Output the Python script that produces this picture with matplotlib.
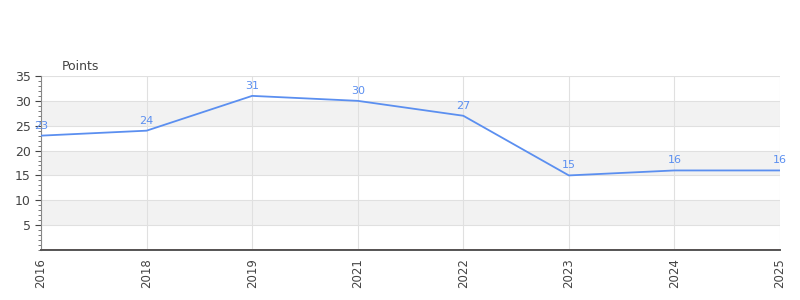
import matplotlib.pyplot as plt
from matplotlib.ticker import MultipleLocator

plt.rcParams["font.family"] = "DejaVu Sans"

years = ["2016", "2018", "2019", "2021", "2022", "2023", "2024", "2025"]
points = [23, 24, 31, 30, 27, 15, 16, 16]

LINE = "#5b8ff0"
GRID = "#e0e0e0"
BAND = "#f2f2f2"
TEXT = "#444444"

fig = plt.figure(figsize=(8, 3), dpi=100)
ax = fig.add_axes([0.05125, 0.1667, 0.92375, 0.58])

xs = list(range(len(years)))
ax.set_xlim(0, len(years) - 1)
ax.set_ylim(0, 35)

# alternating bands
for lo in (5, 15, 25):
    ax.axhspan(lo, lo + 5, color=BAND, zorder=0, lw=0)

ax.yaxis.set_major_locator(MultipleLocator(5))
ax.yaxis.set_minor_locator(MultipleLocator(1))
ax.grid(True, which="major", color=GRID, lw=0.8, zorder=1)
ax.set_axisbelow(True)

ax.plot(xs, points, color=LINE, lw=1.3, zorder=3)
for x, v in zip(xs, points):
    ax.text(x, v + 1.0, str(v), color=LINE, fontsize=8, ha="center", va="bottom", zorder=4)

ax.set_xticks(xs)
ax.set_xticklabels(years, rotation=90, fontsize=8.5, color=TEXT)
ax.set_yticks([5, 10, 15, 20, 25, 30, 35])
ax.tick_params(axis="y", which="major", labelsize=9, colors=TEXT, length=4, width=0.8)
ax.tick_params(axis="y", which="minor", length=2.5, width=0.7, colors="#777777")
ax.tick_params(axis="x", length=0, pad=6)

for s in ("top", "right"):
    ax.spines[s].set_visible(False)
ax.spines["left"].set_color("#888888")
ax.spines["left"].set_linewidth(0.8)
ax.spines["bottom"].set_color("#555555")
ax.spines["bottom"].set_linewidth(1.4)
ax.spines["bottom"].set_zorder(6)
ax.axhline(0.12, color="#cc0000", lw=0.6, zorder=5)

fig.text(0.0775, 0.78, "Points", fontsize=9, color=TEXT, ha="left", va="center")

fig.savefig("out.png", dpi=100, facecolor="white")
